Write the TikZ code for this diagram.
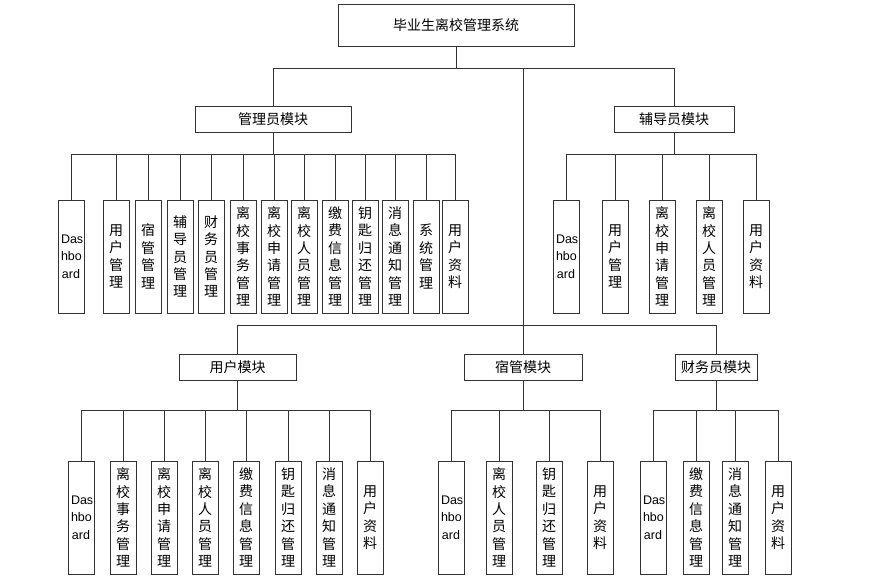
\documentclass[tikz,border=0pt]{standalone}
\usepackage{fontspec}
\newfontfamily\cjk{Noto Sans CJK SC}
\newfontfamily\lat{Liberation Sans}
\begin{document}
\begin{tikzpicture}[x=1pt,y=-1pt,
 box/.style={draw=black!80, line width=0.8pt, fill=white, inner sep=0pt, font=\cjk\fontsize{14}{17}\selectfont},
 leaf/.style={box, minimum width=26pt, minimum height=113pt, text width=20pt, align=center, font=\cjk\fontsize{14}{17.4}\selectfont},
 dleaf/.style={leaf, font=\lat\fontsize{12.5}{17.3}\selectfont},
 conn/.style={draw=black!80, line width=0.8pt}]
\useasboundingbox (0,0) rectangle (881,579);
% modules
\node[box, minimum width=236pt, minimum height=42pt] (title) at (456,25) {毕业生离校管理系统};
\node[box, minimum width=156pt, minimum height=26pt] (adm) at (273,119) {管理员模块};
\node[box, minimum width=120pt, minimum height=26pt] (fdy) at (674,119) {辅导员模块};
\node[box, minimum width=117pt, minimum height=26pt] (yh) at (237.5,367) {用户模块};
\node[box, minimum width=118pt, minimum height=26pt] (sg) at (523,367) {宿管模块};
\node[box, minimum width=82pt, minimum height=26pt] (cw) at (716,367) {财务员模块};
% admin leaves
\node[dleaf] (a1) at (71,256.5) {Das\\hbo\\ard};
\node[leaf] (a2) at (116,256.5) {用\\户\\管\\理};
\node[leaf] (a3) at (148,256.5) {宿\\管\\管\\理};
\node[leaf] (a4) at (180,256.5) {辅\\导\\员\\管\\理};
\node[leaf] (a5) at (211,256.5) {财\\务\\员\\管\\理};
\node[leaf] (a6) at (243,256.5) {离\\校\\事\\务\\管\\理};
\node[leaf] (a7) at (274,256.5) {离\\校\\申\\请\\管\\理};
\node[leaf] (a8) at (304,256.5) {离\\校\\人\\员\\管\\理};
\node[leaf] (a9) at (335,256.5) {缴\\费\\信\\息\\管\\理};
\node[leaf] (a10) at (365,256.5) {钥\\匙\\归\\还\\管\\理};
\node[leaf] (a11) at (395,256.5) {消\\息\\通\\知\\管\\理};
\node[leaf] (a12) at (426,256.5) {系\\统\\管\\理};
\node[leaf] (a13) at (455,256.5) {用\\户\\资\\料};
% fdy leaves
\node[dleaf] (f1) at (566,256.5) {Das\\hbo\\ard};
\node[leaf] (f2) at (615,256.5) {用\\户\\管\\理};
\node[leaf] (f3) at (662,256.5) {离\\校\\申\\请\\管\\理};
\node[leaf] (f4) at (709,256.5) {离\\校\\人\\员\\管\\理};
\node[leaf] (f5) at (756,256.5) {用\\户\\资\\料};
% yh leaves
\node[dleaf] (y1) at (81,517.5) {Das\\hbo\\ard};
\node[leaf] (y2) at (123,517.5) {离\\校\\事\\务\\管\\理};
\node[leaf] (y3) at (164,517.5) {离\\校\\申\\请\\管\\理};
\node[leaf] (y4) at (205,517.5) {离\\校\\人\\员\\管\\理};
\node[leaf] (y5) at (246,517.5) {缴\\费\\信\\息\\管\\理};
\node[leaf] (y6) at (288,517.5) {钥\\匙\\归\\还\\管\\理};
\node[leaf] (y7) at (329,517.5) {消\\息\\通\\知\\管\\理};
\node[leaf] (y8) at (370,517.5) {用\\户\\资\\料};
% sg leaves
\node[dleaf] (s1) at (451,517.5) {Das\\hbo\\ard};
\node[leaf] (s2) at (499,517.5) {离\\校\\人\\员\\管\\理};
\node[leaf] (s3) at (549,517.5) {钥\\匙\\归\\还\\管\\理};
\node[leaf] (s4) at (600,517.5) {用\\户\\资\\料};
% cw leaves
\node[dleaf] (c1) at (653,517.5) {Das\\hbo\\ard};
\node[leaf] (c2) at (696,517.5) {缴\\费\\信\\息\\管\\理};
\node[leaf] (c3) at (735,517.5) {消\\息\\通\\知\\管\\理};
\node[leaf] (c4) at (778,517.5) {用\\户\\资\\料};
% buses
\coordinate (b0) at (0,68);
\coordinate (bA) at (0,154);
\coordinate (b1) at (0,325);
\coordinate (bY) at (0,410);
\draw[conn] (title.south) -- (title.south |- b0) -| (adm.north);
\draw[conn] (title.south |- b0) -| (fdy.north);
\draw[conn] (title.south |- b0) -| (sg.north);
\draw[conn] (sg.north |- b1) -| (yh.north);
\draw[conn] (sg.north |- b1) -| (cw.north);
\foreach \i in {1,...,13} \draw[conn] (adm.south) -- (adm.south |- bA) -| (a\i.north);
\foreach \i in {1,...,5} \draw[conn] (fdy.south) -- (fdy.south |- bA) -| (f\i.north);
\foreach \i in {1,...,8} \draw[conn] (yh.south) -- (yh.south |- bY) -| (y\i.north);
\foreach \i in {1,...,4} \draw[conn] (sg.south) -- (sg.south |- bY) -| (s\i.north);
\foreach \i in {1,...,4} \draw[conn] (cw.south) -- (cw.south |- bY) -| (c\i.north);
\end{tikzpicture}
\end{document}
